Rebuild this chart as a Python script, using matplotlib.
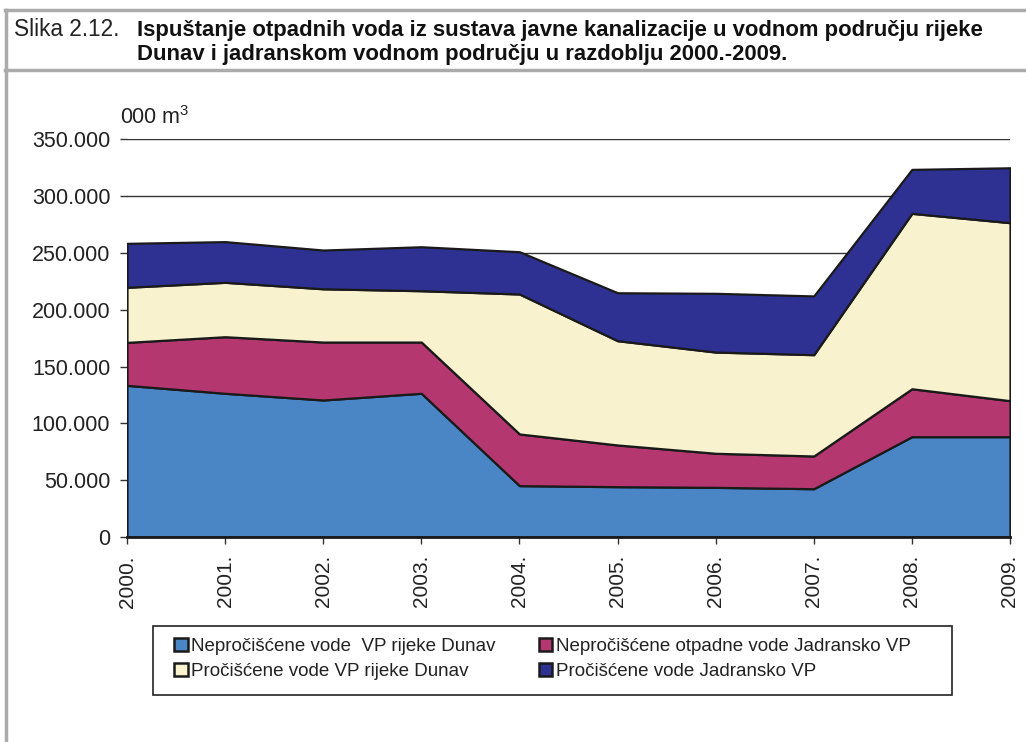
import matplotlib
matplotlib.use("Agg")
import matplotlib.pyplot as plt
import numpy as np
from matplotlib import font_manager
from matplotlib.lines import Line2D
from matplotlib.patches import Rectangle, Patch
from matplotlib.ticker import FuncFormatter

# ---- data (000 m3) ----
years = ["2000.", "2001.", "2002.", "2003.", "2004.", "2005.", "2006.", "2007.", "2008.", "2009."]
nepr_dunav = [133500, 126500, 120600, 126500, 45200, 44300, 43700, 42500, 88300, 88300]
nepr_jadran = [37800, 49800, 51000, 45100, 45500, 36700, 30000, 28800, 42200, 31700]
proc_dunav = [48500, 47900, 46900, 45200, 123200, 91800, 89100, 89200, 154400, 156700]
proc_jadran = [38700, 35800, 34100, 38700, 37200, 42200, 51700, 51700, 38700, 48300]
labels = ["Nepročišćene vode  VP rijeke Dunav",
          "Nepročišćene otpadne vode Jadransko VP",
          "Pročišćene vode VP rijeke Dunav",
          "Pročišćene vode Jadransko VP"]
colors = ["#4A86C5", "#B5376F", "#F8F2CE", "#2E3192"]
yticks = [0, 50000, 100000, 150000, 200000, 250000, 300000, 350000]

avail = {f.name for f in font_manager.fontManager.ttflist}
def pick(*names):
    for n in names:
        if n in avail:
            return n
    return "DejaVu Sans"
REG = pick("Liberation Sans", "Arial")

plt.rcParams['font.family'] = [REG, 'DejaVu Sans']
plt.rcParams['mathtext.fontset'] = 'custom'
plt.rcParams['mathtext.rm'] = REG

W, H = 1026, 742
fig = plt.figure(figsize=(W / 100, H / 100), dpi=100)

def fx(px): return px / W
def fy(py): return 1 - py / H

# frame lines
gray = "#ABABAB"
fig.add_artist(Line2D([fx(5), 1], [fy(10), fy(10)], color=gray, lw=2.5))
fig.add_artist(Line2D([fx(5), 1], [fy(70), fy(70)], color=gray, lw=2.5))
fig.add_artist(Line2D([fx(6), fx(6)], [fy(10), 0], color=gray, lw=2.5))

# title
fig.text(fx(14), fy(36), "Slika 2.12.", fontsize=16.3, color="#222222", va='baseline')
fig.text(fx(137), fy(36), "Ispuštanje otpadnih voda iz sustava javne kanalizacije u vodnom području rijeke",
         fontsize=15.9, fontweight='bold', color="#111111", va='baseline')
fig.text(fx(137), fy(60), "Dunav i jadranskom vodnom području u razdoblju 2000.-2009.",
         fontsize=15.9, fontweight='bold', color="#111111", va='baseline')

# axes
ax = fig.add_axes([fx(127), fy(537), fx(1010) - fx(127), fy(139.4) - fy(537)])
x = np.arange(len(years))
ax.stackplot(x, nepr_dunav, nepr_jadran, proc_dunav, proc_jadran, colors=colors,
             edgecolor="#1a1a1a", linewidth=1.6, zorder=2)
ax.set_xlim(0, len(years) - 1)
ax.set_ylim(0, 350000)
ax.set_yticks(yticks)
ax.yaxis.set_major_formatter(FuncFormatter(lambda v, p: "0" if v == 0 else f"{int(v):,}".replace(",", ".")))
ax.set_xticks(x)
ax.set_xticklabels(years, rotation=90)
ax.set_axisbelow(True)
ax.grid(axis='y', color="#333333", lw=1.0, zorder=0)
for s in ['top', 'right', 'left']:
    ax.spines[s].set_visible(False)
ax.spines['bottom'].set_color("#1a1a1a")
ax.spines['bottom'].set_linewidth(2)
ax.spines['bottom'].set_zorder(3)
ax.tick_params(axis='y', length=5, width=1, color="#333333", pad=7, labelsize=15.5, labelcolor="#222222")
ax.tick_params(axis='x', length=5, width=1, color="#333333", pad=8, labelsize=15, labelcolor="#222222")

ax.text(fx(120), fy(124.5), r"000 m$^{\mathregular{3}}$", transform=fig.transFigure,
        fontsize=15.5, color="#222222", va='baseline', ha='left')

# legend
fig.add_artist(Rectangle((fx(153), fy(695)), fx(952) - fx(153), fy(626) - fy(695),
                         transform=fig.transFigure, fill=False, edgecolor="#222222", lw=1.2))
handles = [Patch(facecolor=c, edgecolor="#1a1a1a", linewidth=1.8) for c in colors]
order = [0, 2, 1, 3]
leg = fig.legend([handles[i] for i in order], [labels[i] for i in order], ncol=2,
                 loc='upper left', bbox_to_anchor=(fx(174), fy(638)), frameon=False,
                 prop={'size': 13.5},
                 handlelength=0.72, handleheight=0.72, handletextpad=0.2,
                 columnspacing=2.3, labelspacing=0.4, borderpad=0, borderaxespad=0)
for t in leg.get_texts():
    t.set_color("#222222")

fig.savefig("out.png", dpi=100)
